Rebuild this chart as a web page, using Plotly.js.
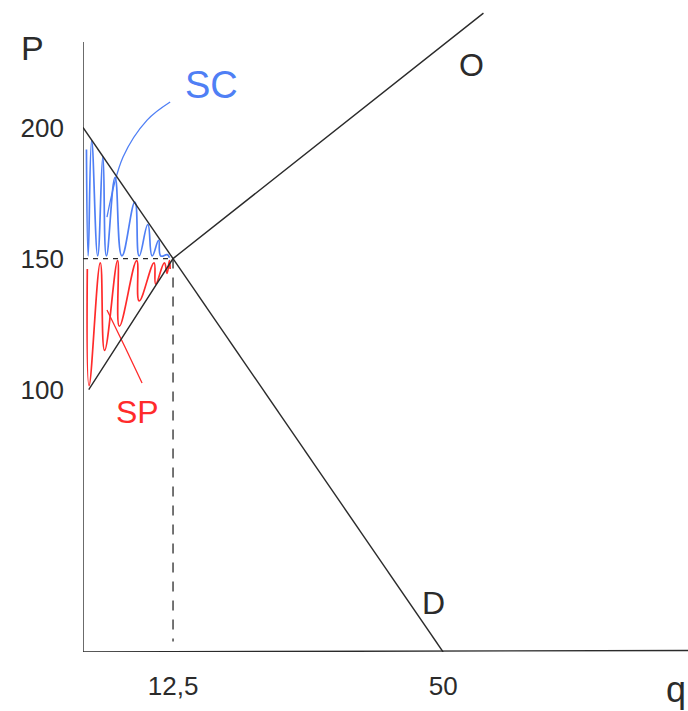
<!DOCTYPE html>
<html>
<head>
<meta charset="utf-8">
<script src="https://cdn.plot.ly/plotly-3.0.1.min.js"></script>
<style>
  html, body { margin: 0; padding: 0; background: #ffffff; }
  #chart { width: 688px; height: 711px; }
</style>
</head>
<body>
<div id="chart"></div>
<script>
// Market equilibrium: demand D, supply O, consumer surplus SC, producer surplus SP
const eqQ = 12.5;
const eqP = 150;

// Demand curve D
const demandQ = [0, 12.5, 50];
const demandP = [200, 150, 0];

// Supply curve O
const supplyQ = [0.8, 12.5, 55.6];
const supplyP = [100, 150, 243.6];

// Consumer surplus hatching (blue strokes between the price line and D)
const scQ = [0.48, 0.72, 1.2, 2.04, 2.76, 3.25, 4.45, 5.4, 7.2, 7.8, 9.0, 9.6, 10.5, 10.8, 11.7, 12.0];
const scP = [191.6, 151, 195, 151, 189, 151, 181, 151, 171.5, 151, 163, 151, 157, 151, 151.5, 150.3];

// Producer surplus hatching (red strokes between the price line and O)
const spQ = [0.6, 0.84, 2.4, 3.0, 4.8, 5.05, 7.45, 7.8, 9.86, 10.1, 11.3, 11.66, 12.0, 12.1];
const spP = [146, 101.6, 148.4, 115, 149.2, 124.2, 149.2, 133.9, 148.4, 140.3, 148.4, 144.4, 149.2, 146];

// Leader strokes from the labels into the surplus areas
const scLeaderQ = [3.33, 5.56, 8.9, 12.1];
const scLeaderP = [165.8, 188.7, 202.8, 209.7];
const spLeaderQ = [3.33, 5.83, 8.2];
const spLeaderP = [130.4, 116.3, 102.6];

// Axis tick labels
const xTickVals = [12.5, 50];
const xTickText = ['12,5', '50'];
const yTickVals = [100, 150, 200];
const yTickText = ['100', '150', '200'];

const ink = '#2b2b2b';
const blue = '#4f7ff5';
const red = '#ff2b2b';
const hand = 'Liberation Sans, Arial, sans-serif';

const traces = [
  { x: scQ, y: scP, mode: 'lines', line: { color: blue, width: 1.7, shape: 'spline', smoothing: 1.3 }, hoverinfo: 'skip' },
  { x: spQ, y: spP, mode: 'lines', line: { color: red, width: 1.7, shape: 'spline', smoothing: 1.3 }, hoverinfo: 'skip' },
  { x: scLeaderQ, y: scLeaderP, mode: 'lines', line: { color: blue, width: 1.3, shape: 'spline' }, hoverinfo: 'skip' },
  { x: spLeaderQ, y: spLeaderP, mode: 'lines', line: { color: red, width: 1.3, shape: 'spline' }, hoverinfo: 'skip' },
  { x: demandQ, y: demandP, mode: 'lines', line: { color: ink, width: 1.4 }, hoverinfo: 'skip' },
  { x: supplyQ, y: supplyP, mode: 'lines', line: { color: ink, width: 1.4 }, hoverinfo: 'skip' }
];

const layout = {
  width: 688,
  height: 711,
  margin: { l: 83, r: 0, t: 0, b: 59 },
  paper_bgcolor: '#ffffff',
  plot_bgcolor: '#ffffff',
  showlegend: false,
  xaxis: {
    range: [0, 84],
    showgrid: false, zeroline: false, showline: false,
    tickvals: xTickVals, ticktext: xTickText,
    ticks: '', ticklabelstandoff: 16,
    tickfont: { family: hand, size: 26, color: ink }
  },
  yaxis: {
    range: [0, 248.6],
    showgrid: false, zeroline: false, showline: false,
    tickvals: yTickVals, ticktext: yTickText,
    ticks: '', ticklabelstandoff: 18,
    tickfont: { family: hand, size: 26, color: ink }
  },
  shapes: [
    // axes
    { type: 'line', xref: 'x', yref: 'y', x0: 0, y0: -1, x1: 0, y1: 232.6, line: { color: ink, width: 1.4 } },
    { type: 'line', xref: 'x', yref: 'y', x0: 0, y0: 0, x1: 84, y1: 0.6, line: { color: ink, width: 1.4 } },
    // equilibrium guides
    { type: 'line', xref: 'x', yref: 'y', x0: 0, y0: eqP, x1: eqQ, y1: eqP, line: { color: ink, width: 1.3, dash: '5px,5px' } },
    { type: 'line', xref: 'x', yref: 'y', x0: eqQ, y0: eqP, x1: eqQ, y1: 4, line: { color: ink, width: 1.3, dash: '10px,9px' } }
  ],
  annotations: [
    { xref: 'paper', yref: 'paper', x: -0.084, y: 0.926, xanchor: 'center', yanchor: 'middle', text: 'P', showarrow: false, font: { family: hand, size: 34, color: ink } },
    { xref: 'paper', yref: 'paper', x: 1.0, y: -0.058, xanchor: 'right', yanchor: 'middle', text: 'q', showarrow: false, font: { family: hand, size: 36, color: ink } },
    { x: 54, y: 223.8, text: 'O', showarrow: false, font: { family: hand, size: 32, color: ink } },
    { x: 48.6, y: 18.7, text: 'D', showarrow: false, font: { family: hand, size: 32, color: ink } },
    { x: 17.8, y: 216.2, text: 'SC', showarrow: false, font: { family: hand, size: 38, color: blue } },
    { x: 7.6, y: 91.5, text: 'SP', showarrow: false, font: { family: hand, size: 32, color: red } }
  ]
};

Plotly.newPlot('chart', traces, layout, { staticPlot: true, displayModeBar: false });
</script>
</body>
</html>
